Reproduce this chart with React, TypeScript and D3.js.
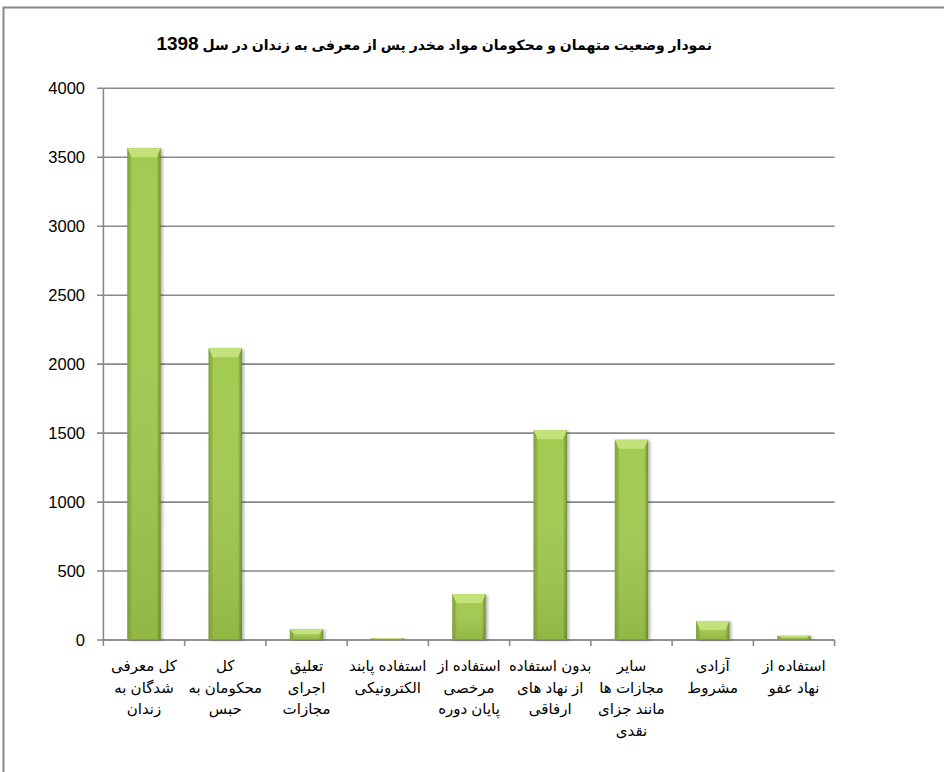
import React from 'react';
import * as d3 from 'd3';

// values
const labelLines: string[][] = [
	['کل معرفی', 'شدگان به', 'زندان'],
	['کل', 'محکومان به', 'حبس'],
	['تعلیق', 'اجرای', 'مجازات'],
	['استفاده پابند', 'الکترونیکی'],
	['استفاده از', 'مرخصی', 'پایان دوره'],
	['بدون استفاده', 'از نهاد های', 'ارفاقی'],
	['سایر', 'مجازات ها', 'مانند جزای', 'نقدی'],
	['آزادی', 'مشروط'],
	['استفاده از', 'نهاد عفو'],
];
const categories = labelLines.map(l => l.join(' '));
const values = [3566, 2115, 78, 12, 333, 1520, 1452, 138, 31];
const yTicks = [0, 500, 1000, 1500, 2000, 2500, 3000, 3500, 4000];
const titleText = 'نمودار وضعیت متهمان و محکومان  مواد مخدر پس از معرفی به زندان در سل ';
const titleYear = '1398';

const W = 944, H = 772;
const left = 103.4, right = 834.6, top = 88.3, bottom = 640;
const font = 'Arial, "Liberation Sans", "DejaVu Sans", sans-serif';

export default function App() {
	const x = d3.scaleBand<string>().domain(categories).range([left, right]).paddingInner(0.59).paddingOuter(0.295);
	const y = d3.scaleLinear().domain([0, 4000]).range([bottom, top]);
	const band = d3.scaleBand<string>().domain(categories).range([left, right]);
	const bw = x.bandwidth();

	return (
		<svg width={W} height={H} style={{ position: 'absolute', left: 0, top: 0, background: '#fff' }}>
			<defs>
				<linearGradient id="barg" x1="0" x2="1" y1="0" y2="0">
					<stop offset="0" stopColor="#7c9c36" />
					<stop offset="0.12" stopColor="#a2ca4f" />
					<stop offset="0.88" stopColor="#a2ca4f" />
					<stop offset="1" stopColor="#6a8a2a" />
				</linearGradient>
				<linearGradient id="barv" x1="0" x2="0" y1="0" y2="1">
					<stop offset="0" stopColor="#ffffff" stopOpacity="0" />
					<stop offset="1" stopColor="#4d6a1a" stopOpacity="0.2" />
				</linearGradient>
				<filter id="shadow" x="-20%" y="-5%" width="150%" height="115%">
					<feDropShadow dx="2" dy="1" stdDeviation="1.5" floodColor="#000" floodOpacity="0.3" />
				</filter>
			</defs>

			<rect x={3.5} y={7.5} width={980} height={800} fill="none" stroke="#888" strokeWidth={2} />

			<text x={712} y={50} direction="rtl" textAnchor="start" fontFamily={font} fontWeight="bold" fontSize={14} fill="#000">
				{titleText}<tspan fontSize={19}>{titleYear}</tspan>
			</text>

			{/* grid + y ticks */}
			{yTicks.map(t => (
				<g key={t}>
					<line x1={97} x2={right} y1={y(t)} y2={y(t)} stroke="#8a8a8a" strokeWidth={1.6} />
					<text x={85} y={y(t) + 6} textAnchor="end" fontFamily={font} fontSize={16.5} fill="#000">{t}</text>
				</g>
			))}
			<line x1={left} x2={left} y1={top} y2={bottom + 6} stroke="#8a8a8a" strokeWidth={1.6} />
			<line x1={left} x2={right} y1={bottom} y2={bottom} stroke="#8a8a8a" strokeWidth={1.6} />

			{/* category ticks */}
			{categories.map(c => (
				<line key={c} x1={band(c)! + band.bandwidth()} x2={band(c)! + band.bandwidth()} y1={bottom} y2={bottom + 6} stroke="#8a8a8a" strokeWidth={1.6} />
			))}

			{/* bars */}
			{categories.map((c, i) => {
				const bx = x(c)!;
				const by = y(values[i]);
				const bh = bottom - 0.8 - by;
				const bev = Math.min(9, bh / 2);
				return (
					<g key={c}>
						<rect x={bx} y={by} width={bw} height={bh} fill="url(#barg)" filter="url(#shadow)" />
						<rect x={bx} y={by} width={bw} height={bh} fill="url(#barv)" />
						<polygon points={`${bx},${by} ${bx + bw},${by} ${bx + bw - 4},${by + bev} ${bx + 4},${by + bev}`} fill="#c3e27a" />
						<polygon points={`${bx},${by} ${bx + 4},${by + bev} ${bx + 4},${by + bh} ${bx},${by + bh}`} fill="#86a83c" opacity={0.5} />
					</g>
				);
			})}

			{/* x labels */}
			{categories.map((c, i) => (
				<text key={c} x={band(c)! + band.bandwidth() / 2} y={671} textAnchor="middle" direction="rtl" fontFamily={font} fontSize={15} fill="#000">
					{labelLines[i].map((ln, j) => (
						<tspan key={j} x={band(c)! + band.bandwidth() / 2} dy={j === 0 ? 0 : 21.5}>{ln}</tspan>
					))}
				</text>
			))}
		</svg>
	);
}
